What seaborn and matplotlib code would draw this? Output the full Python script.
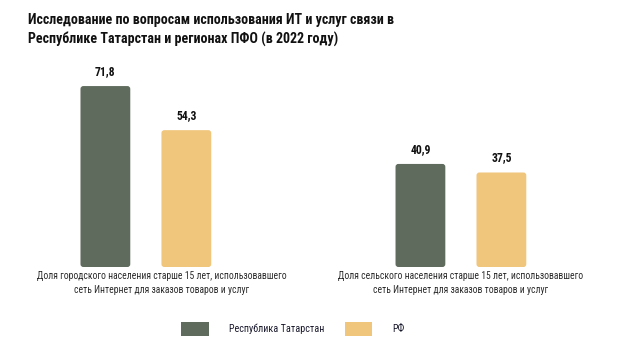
import numpy as np
import pandas as pd
import seaborn as sns
import matplotlib.pyplot as plt
import matplotlib.transforms as mtransforms
from matplotlib.patches import FancyBboxPatch, Patch

sns.set_theme(style="white")
plt.rcParams['font.family'] = ['Roboto Condensed', 'Roboto', 'DejaVu Sans']

categories = ["Доля городского населения старше 15 лет, использовавшего\nсеть Интернет для заказов товаров и услуг",
              "Доля сельского населения старше 15 лет, использовавшего\nсеть Интернет для заказов товаров и услуг"]
series = ["Республика Татарстан", "РФ"]
tatarstan = [71.8, 40.9]
rf = [54.3, 37.5]
colors = ["#5f6b5c", "#f0c57c"]
title = "Исследование по вопросам использования ИТ и услуг связи в\nРеспублике Татарстан и регионах ПФО (в 2022 году)"

df = pd.DataFrame({
    "cat": categories * 2,
    "series": [series[0]] * 2 + [series[1]] * 2,
    "value": tatarstan + rf,
})

fig = plt.figure(figsize=(6.2, 3.5), dpi=100)
ax = fig.add_axes([0, 83 / 350, 1, 252 / 350])
sns.barplot(data=df, x="cat", y="value", hue="series", palette=colors,
            width=0.514, gap=0.385, ax=ax, legend=False, saturation=1)
ax.set_xlim(-0.463, 1.505)
ax.set_ylim(0, 100)
for s in ax.spines.values():
    s.set_visible(False)
ax.set_yticks([])
ax.set_xlabel("")
ax.set_ylabel("")
ax.tick_params(axis="x", length=0, pad=3)
for lab in ax.get_xticklabels():
    lab.set_fontsize(6.9)
    lab.set_color("#2a2a2a")
    lab.set_linespacing(1.45)
labs = ax.get_xticklabels()
labs[0].set_transform(labs[0].get_transform() + mtransforms.ScaledTranslation(16 / 100, 0, fig.dpi_scale_trans))

for cont in ax.containers:
    ax.bar_label(cont, labels=[f"{v:.1f}".replace(".", ",") for v in cont.datavalues],
                 padding=6, fontsize=8.5, fontweight="bold", color="#111111")

# rounded corners (x units per px = 1/315, y units per px = 100/252)
aspect = (100 / 252) / (1 / 315)
for p in list(ax.patches):
    x, y, w, h = p.get_x(), p.get_y(), p.get_width(), p.get_height()
    fc = p.get_facecolor()
    p.set_visible(False)
    rp = FancyBboxPatch((x, y), w, h, boxstyle="round,pad=0,rounding_size=0.009",
                        mutation_aspect=aspect, facecolor=fc, edgecolor="none")
    ax.add_patch(rp)

fig.text(28 / 620, 1 - 30 / 350, title, fontsize=10.1, fontweight="bold", color="#111111",
         va="center", ha="left", linespacing=1.5)

handles = [Patch(facecolor=c, edgecolor="none") for c in colors]
fig.legend(handles, series, loc="center", bbox_to_anchor=(293 / 620, 1 - 329 / 350), ncol=2,
           frameon=False, prop={"size": 7.3}, handlelength=2.7, handleheight=1.7, handletextpad=2.0,
           columnspacing=2.0, labelcolor="#1a1a2e")

fig.savefig("out.png", dpi=100)
